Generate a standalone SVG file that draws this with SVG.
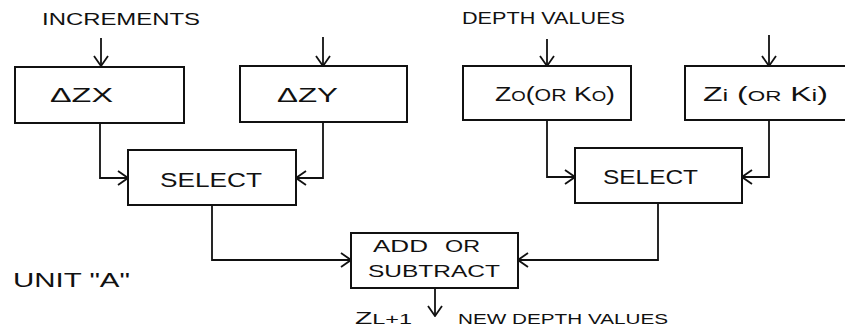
<svg xmlns="http://www.w3.org/2000/svg" width="845" height="329" viewBox="0 0 845 329">
<defs>
<style>
.box{fill:none;stroke:#111;stroke-width:2}
.ln{fill:none;stroke:#111;stroke-width:1.8;marker-end:url(#ah)}
.t{font-family:"Liberation Sans",Arial,sans-serif;fill:#111}
.lbl{font-size:20px}
.sm{font-size:17px}
</style>
<marker id="ah" viewBox="0 0 12 16" refX="11" refY="8" markerWidth="12" markerHeight="16" markerUnits="userSpaceOnUse" orient="auto">
<path d="M1,1 L11,8 L1,15" fill="none" stroke="#111" stroke-width="1.8"/>
</marker>
</defs>
<rect width="845" height="329" fill="#fff"/>
<g id="title-increments"><text class="t sm" x="42" y="25" textLength="158" lengthAdjust="spacingAndGlyphs">INCREMENTS</text></g>
<g id="title-depth"><text class="t sm" x="462" y="24" textLength="163" lengthAdjust="spacingAndGlyphs">DEPTH VALUES</text></g>
<g id="dzx"><rect class="box" x="15" y="67" width="169" height="56"/><text class="t lbl" x="50" y="102" textLength="63" lengthAdjust="spacingAndGlyphs">ΔZX</text></g>
<g id="dzy"><rect class="box" x="240" y="66" width="167" height="56"/><text class="t lbl" x="277" y="102" textLength="61" lengthAdjust="spacingAndGlyphs">ΔZY</text></g>
<g id="zo"><rect class="box" x="463" y="66" width="168" height="54"/><text class="t lbl" x="495" y="101" textLength="120" lengthAdjust="spacingAndGlyphs">Z<tspan font-size="14">O</tspan>(<tspan font-size="16">OR</tspan> K<tspan font-size="14">O</tspan>)</text></g>
<g id="zi"><rect class="box" x="685" y="66" width="170" height="54"/><text class="t lbl" x="703" y="101" textLength="125" lengthAdjust="spacingAndGlyphs">Z<tspan font-size="16">i</tspan> (<tspan font-size="14">OR</tspan> K<tspan font-size="16">i</tspan>)</text></g>
<g id="select-left"><rect class="box" x="128" y="150" width="168" height="55"/><text class="t lbl" x="160" y="187" textLength="102" lengthAdjust="spacingAndGlyphs">SELECT</text></g>
<g id="select-right"><rect class="box" x="575" y="148" width="167" height="55"/><text class="t lbl" x="603" y="184" textLength="95" lengthAdjust="spacingAndGlyphs">SELECT</text></g>
<g id="addsub"><rect class="box" x="351" y="233" width="167" height="55"/><text class="t sm" y="252"><tspan x="373" textLength="55" lengthAdjust="spacingAndGlyphs">ADD</tspan> <tspan x="445" textLength="35" lengthAdjust="spacingAndGlyphs">OR</tspan></text><text class="t sm" x="368" y="277" textLength="132" lengthAdjust="spacingAndGlyphs">SUBTRACT</text></g>
<g id="unit"><text class="t lbl" x="13" y="287" textLength="117" lengthAdjust="spacingAndGlyphs">UNIT "A"</text></g>
<g id="output"><text class="t" x="355" y="324" font-size="17" textLength="57" lengthAdjust="spacingAndGlyphs">Z<tspan font-size="14">L+1</tspan></text><text class="t" x="458" y="324" font-size="14" textLength="210" lengthAdjust="spacingAndGlyphs">NEW DEPTH VALUES</text></g>
<g id="connectors">
<path class="ln" d="M101,38 V66"/>
<path class="ln" d="M323,37 V66"/>
<path class="ln" d="M547,39 V66"/>
<path class="ln" d="M769,35 V66"/>
<path class="ln" d="M100,123 V178 H128"/>
<path class="ln" d="M323,122 V178 H296"/>
<path class="ln" d="M547,120 V177 H575"/>
<path class="ln" d="M769,120 V177 H742"/>
<path class="ln" d="M212,205 V260 H351"/>
<path class="ln" d="M658,203 V260 H518"/>
<path class="ln" d="M435,288 V316"/>
</g>
</svg>
